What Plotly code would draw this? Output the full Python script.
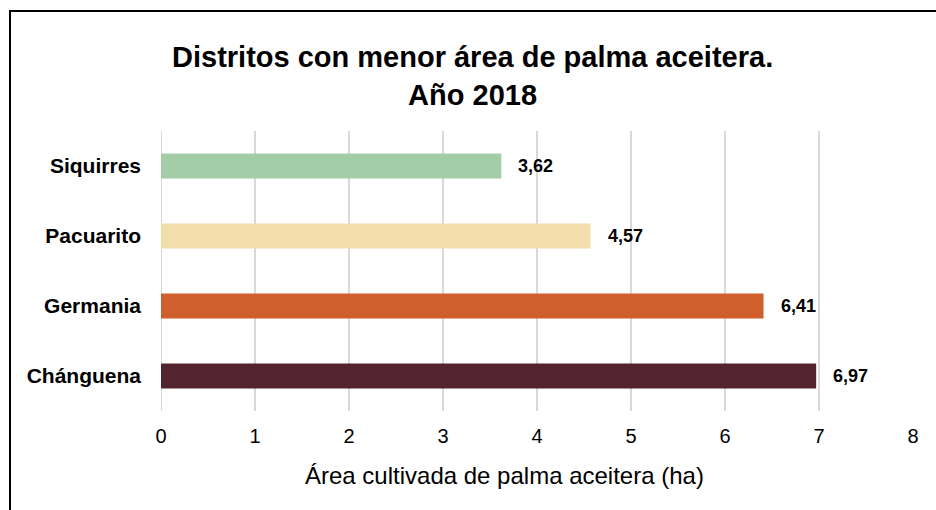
import plotly.graph_objects as go

categories = ["Siquirres", "Pacuarito", "Germania", "Chánguena"]
values = [3.62, 4.57, 6.41, 6.97]
colors = ["#A2CDA6", "#F2DEAA", "#CF602E", "#532330"]
x_ticks = [0, 1, 2, 3, 4, 5, 6, 7, 8]

title_text = "Distritos con menor área de palma aceitera.<br>Año 2018"
x_title = "Área cultivada de palma aceitera (ha)"

W, H = 936, 510
L, R, T, B = 161, 23, 131, 99
PW, PH = W - L - R, H - T - B

def px(p):
    return (p - L) / PW

def py(p):
    return (H - B - p) / PH

FONT = "Liberation Sans, Arial, sans-serif"

fig = go.Figure()
fig.add_trace(go.Bar(
    y=categories, x=values, orientation="h",
    marker=dict(color=colors, line=dict(width=0)),
    hoverinfo="skip",
))

annotations = []
for c, v in zip(categories, values):
    annotations.append(dict(
        x=v, y=c, xref="x", yref="y", xanchor="left", yanchor="middle",
        xshift=15, showarrow=False,
        text="<b>" + f"{v:.2f}".replace(".", ",") + "</b>",
        font=dict(family=FONT, size=18, color="#000000"),
    ))
annotations.append(dict(
    x=px(472), y=py(76), xref="paper", yref="paper",
    xanchor="center", yanchor="middle", showarrow=False,
    text="<b>" + title_text.replace("<br>", "</b><br><b>") + "</b>",
    font=dict(family=FONT, size=29, color="#000000"),
))
annotations.append(dict(
    x=px(504), y=py(475), xref="paper", yref="paper",
    xanchor="center", yanchor="middle", showarrow=False,
    text=x_title,
    font=dict(family=FONT, size=24, color="#000000"),
))

fig.update_layout(
    width=W, height=H,
    margin=dict(l=L, r=R, t=T, b=B, autoexpand=False),
    paper_bgcolor="white", plot_bgcolor="white",
    showlegend=False,
    bargap=0.64,
    annotations=annotations,
    shapes=[dict(type="rect", xref="paper", yref="paper",
                 x0=px(10), x1=px(945), y0=py(11), y1=py(530),
                 line=dict(color="#000000", width=2), layer="above")],
    xaxis=dict(
        range=[0, 8], tickvals=x_ticks, ticktext=[str(t) for t in x_ticks],
        showgrid=True, gridcolor="#D9D9D9", gridwidth=2,
        zeroline=False, showline=False, ticks="",
        ticklabelstandoff=11,
        tickfont=dict(family=FONT, size=20, color="#000000"),
        fixedrange=True,
    ),
    yaxis=dict(
        autorange="reversed", showgrid=False, zeroline=False,
        showline=False, ticks="",
        ticklabelstandoff=19,
        tickfont=dict(family=FONT, size=21, color="#000000"),
        tickprefix="<b>", ticksuffix="</b>",
        fixedrange=True,
    ),
)
fig.add_shape(type="line", xref="x", yref="paper", x0=0, x1=0, y0=0, y1=1,
              line=dict(color="#D9D9D9", width=2), layer="below")

fig.write_html("out.html",
               config={"displayModeBar": False, "staticPlot": True},
               post_script="document.body.style.margin='0px';document.body.style.overflow='hidden';")
